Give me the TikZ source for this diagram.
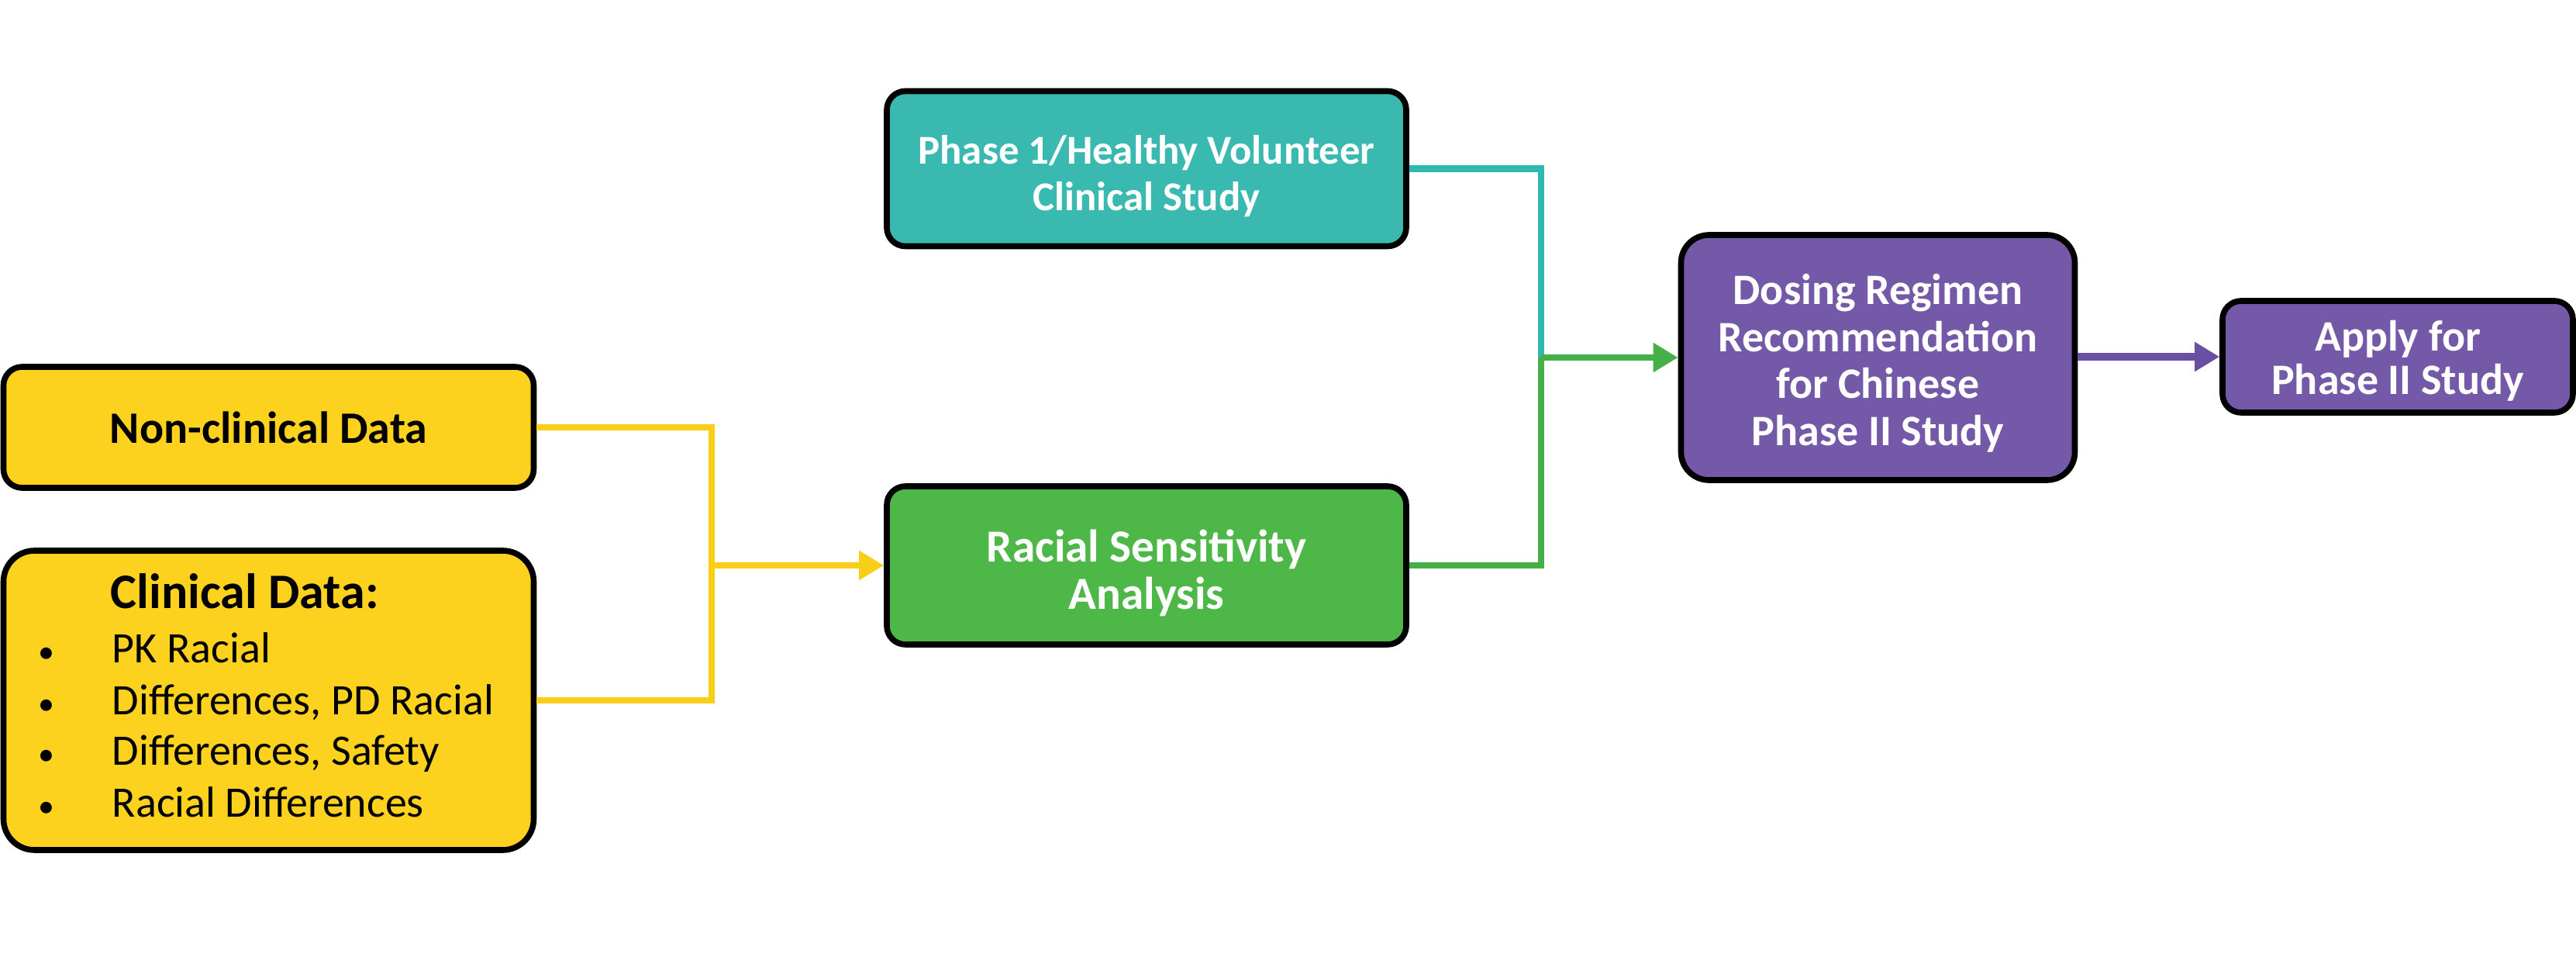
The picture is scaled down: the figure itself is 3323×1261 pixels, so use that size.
\documentclass[tikz,border=0pt]{standalone}
\usepackage{fontspec}
\setmainfont{Carlito}
\usetikzlibrary{arrows.meta}
\definecolor{ybox}{HTML}{FCD21F}
\definecolor{tbox}{HTML}{39B9B0}
\definecolor{gbox}{HTML}{4DB848}
\definecolor{pbox}{HTML}{7359A7}
\definecolor{yline}{HTML}{F8CE17}
\definecolor{tline}{HTML}{2FB8AF}
\definecolor{gline}{HTML}{45B04A}
\definecolor{pline}{HTML}{6A50A2}
\tikzset{
  box/.style={draw=black, line width=1.9pt, rounded corners=6pt, inner sep=0pt, align=center},
  wtext/.style={text=white, align=center, inner sep=0pt, font=\fontsize{14}{15.2}\selectfont\bfseries},
  conn/.style={line width=2.1pt},
  tip/.style={-{Triangle[length=8pt,width=9pt]}}
}
\begin{document}
\begin{tikzpicture}[x=0.25pt,y=-0.25pt]
\useasboundingbox (0,0) rectangle (3323,1261);
% boxes
\node[box, fill=ybox, minimum width=171pt, minimum height=39pt, font=\fontsize{14.5}{16}\selectfont\bfseries] (nc) at (346.5,551) {Non-clinical Data};
\node[box, fill=ybox, rounded corners=10pt, minimum width=171pt, minimum height=96.5pt] (cd) at (346.5,903) {};
\node[anchor=base west, font=\fontsize{16}{18}\selectfont\bfseries, inner sep=0pt] (cdt) at (142,785) {Clinical Data:};
\foreach \i/\yy/\t in {1/855/PK Racial, 2/921/{Differences, PD Racial}, 3/987/{Differences, Safety}, 4/1053/Racial Differences}{
  \node[anchor=base west, font=\fontsize{14}{16}\selectfont, inner sep=0pt] (cdi\i) at (144,\yy) {\t};
  \node[anchor=base, font=\fontsize{14}{16}\selectfont, inner sep=0pt] (cdb\i) at (60,\yy) {\scalebox{0.75}{\textbullet}};
}
\node[box, fill=tbox, minimum width=167.5pt, minimum height=50pt] (p1) at (1479,217.5) {};
\node[wtext, font=\fontsize{13.2}{15}\selectfont\bfseries] (p1t) at ([yshift=-2.3pt]p1.center) {Phase 1/Healthy Volunteer\\Clinical Study};
\node[box, fill=gbox, minimum width=167.5pt, minimum height=51pt] (rs) at (1479,729) {};
\node[wtext, font=\fontsize{14.8}{15.2}\selectfont\bfseries] (rst) at ([yshift=-2.5pt]rs.center) {Racial Sensitivity\\Analysis};
\node[box, fill=pbox, rounded corners=9pt, minimum width=127pt, minimum height=79pt] (dr) at (2422.5,461) {};
\node[wtext] (drt) at ([yshift=-1.8pt]dr.center) {Dosing Regimen\\Recommendation\\for Chinese\\Phase II Study};
\node[box, fill=pbox, minimum width=113pt, minimum height=36pt] (ap) at (3093,460) {};
\node[wtext, font=\fontsize{14}{14}\selectfont\bfseries] (apt) at ([yshift=-1.2pt]ap.center) {Apply for\\Phase II Study};
% junctions
\coordinate (yj1) at (918,551);
\coordinate (yj2) at (918,903);
\coordinate (yjm) at (918,729);
\coordinate (tj1) at (1988,217.5);
\coordinate (gj2) at (1988,729);
\coordinate (gjm) at (1988,461);
% connectors
\draw[conn, yline] (nc.east |- yj1) -- (yj1) -- (yj2) -- (cd.east |- yj2);
\draw[conn, yline, tip] (yjm) -- (rs.west);
\draw[conn, tline] (p1.east |- tj1) -- (tj1) -- (gjm);
\draw[conn, gline] (rs.east |- gj2) -- (gj2) -- (gjm);
\draw[conn, gline, tip] (gjm) -- (dr.west);
\draw[conn, pline, line width=2.5pt, tip] (dr.east |- ap.west) -- (ap.west);
\end{tikzpicture}
\end{document}
